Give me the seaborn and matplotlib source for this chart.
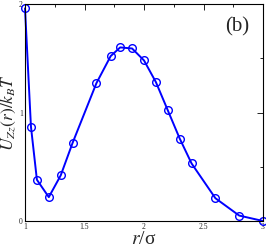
import numpy as np
import pandas as pd
import matplotlib
matplotlib.use("Agg")
import matplotlib.pyplot as plt
import seaborn as sns
from matplotlib.ticker import MultipleLocator

r_sigma = [1.0, 1.05, 1.1, 1.2, 1.3, 1.4, 1.6, 1.72, 1.8, 1.9, 2.0, 2.1, 2.2, 2.3, 2.4, 2.6, 2.8, 3.0]
u_zz = [1.96, 0.87, 0.38, 0.22, 0.42, 0.72, 1.27, 1.52, 1.60, 1.59, 1.48, 1.28, 1.02, 0.76, 0.53, 0.21, 0.05, 0.0]
x_ticks = [1, 1.5, 2, 2.5, 3]
x_tick_labels = ["1", "1.5", "2", "2.5", "3"]
y_ticks = [0, 1, 2]
y_tick_labels = ["0", "1", "2"]

sns.set_style("white")
plt.rcParams["font.family"] = ["Liberation Serif", "DejaVu Serif"]
plt.rcParams["mathtext.fontset"] = "stix"

df = pd.DataFrame({"r": r_sigma, "U": u_zz})

fig = plt.figure(figsize=(2.66, 2.49), dpi=100)
ax = fig.add_axes([25/266, 28/249, 238/266, 217/249])
sns.lineplot(data=df, x="r", y="U", ax=ax, color="#0000ff", linewidth=1.4,
             marker="o", markersize=5.5, markerfacecolor="none",
             markeredgecolor="#0000ff", markeredgewidth=1.0, clip_on=False)

ax.set_xlim(1, 3)
ax.set_ylim(0, 2)
ax.set_xticks(x_ticks)
ax.set_xticklabels(x_tick_labels)
ax.set_yticks(y_ticks)
ax.set_yticklabels(y_tick_labels)
ax.xaxis.set_minor_locator(MultipleLocator(0.25))
ax.yaxis.set_minor_locator(MultipleLocator(0.5))
ax.tick_params(which="both", direction="in", top=True, right=True,
               labelsize=5.5, pad=1.5, color="black")
ax.tick_params(which="major", length=4, width=0.6)
ax.tick_params(which="minor", length=2.5, width=0.6)
for s in ax.spines.values():
    s.set_color("black")
    s.set_linewidth(0.8)

ax.set_xlabel(r"$r$/σ", fontsize=14, labelpad=0)
ax.set_ylabel(r"$U_{Zz}(r)/k_BT$", fontsize=12.5)
ax.yaxis.set_label_coords(-7/238, 0.5)
ax.text(2.78, 1.79, "(b)", fontsize=15, ha="center", va="center")

fig.savefig("out.png", dpi=100)
